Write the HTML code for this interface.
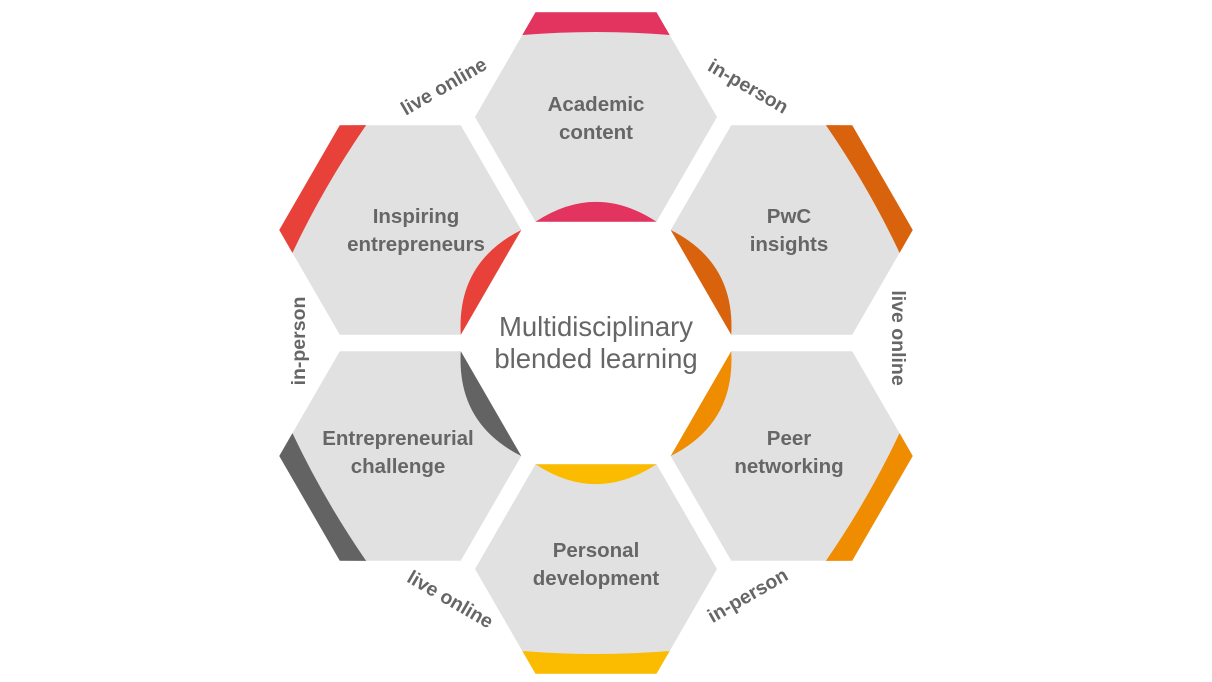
<!DOCTYPE html>
<html><head><meta charset="utf-8"><style>
html,body{margin:0;padding:0;background:#fff;}
svg{display:block;}
text{font-family:"Liberation Sans",Arial,sans-serif;fill:#666;}
.h{font-size:20.5px;font-weight:bold;text-anchor:middle;}
.l{font-size:19.5px;font-weight:bold;text-anchor:middle;}
.c{font-size:27.5px;text-anchor:middle;}
</style></head><body>
<svg width="1212" height="682" viewBox="0 0 1212 682" xmlns="http://www.w3.org/2000/svg">
<defs>
<polygon id="hex" points="-60.5,-104.8 60.5,-104.8 121,0 60.5,104.8 -60.5,104.8 -121,0" fill="#e1e1e1"/>
<path id="ob" d="M-60.5,-104.8 L60.5,-104.8 L73.7,-82 Q0,-88 -73.7,-82 Z"/>
<path id="ib" d="M-60.5,104.8 Q0,65 60.5,104.8 Z"/>
</defs>
<g transform="translate(596,343)">
  <g transform="rotate(0) translate(0,-226)" fill="#e3335f"><use href="#hex"/><use href="#ob"/><use href="#ib"/></g>
  <g transform="rotate(60) translate(0,-226)" fill="#d9620c"><use href="#hex"/><use href="#ob"/><use href="#ib"/></g>
  <g transform="rotate(120) translate(0,-226)" fill="#ef8c00"><use href="#hex"/><use href="#ob"/><use href="#ib"/></g>
  <g transform="rotate(180) translate(0,-226)" fill="#fbbc00"><use href="#hex"/><use href="#ob"/><use href="#ib"/></g>
  <g transform="rotate(240) translate(0,-226)" fill="#636363"><use href="#hex"/><use href="#ob"/><use href="#ib"/></g>
  <g transform="rotate(300) translate(0,-226)" fill="#e8413a"><use href="#hex"/><use href="#ob"/><use href="#ib"/></g>
</g>
<text class="h" x="596" y="111">Academic</text><text class="h" x="596" y="139">content</text>
<text class="h" x="789" y="223">PwC</text><text class="h" x="789" y="251">insights</text>
<text class="h" x="789" y="445">Peer</text><text class="h" x="789" y="473">networking</text>
<text class="h" x="596" y="557">Personal</text><text class="h" x="596" y="585">development</text>
<text class="h" x="398" y="445">Entrepreneurial</text><text class="h" x="398" y="473">challenge</text>
<text class="h" x="416" y="223">Inspiring</text><text class="h" x="416" y="251">entrepreneurs</text>
<text class="c" x="596" y="336">Multidisciplinary</text>
<text class="c" x="596" y="368">blended learning</text>
<text class="l" transform="translate(447,92) rotate(-30)">live online</text>
<text class="l" transform="translate(745,92) rotate(30)">in-person</text>
<text class="l" transform="translate(892,338) rotate(90)">live online</text>
<text class="l" transform="translate(751,601) rotate(-30)">in-person</text>
<text class="l" transform="translate(447,605) rotate(30)">live online</text>
<text class="l" transform="translate(305,341) rotate(-90)">in-person</text>
</svg>
</body></html>
